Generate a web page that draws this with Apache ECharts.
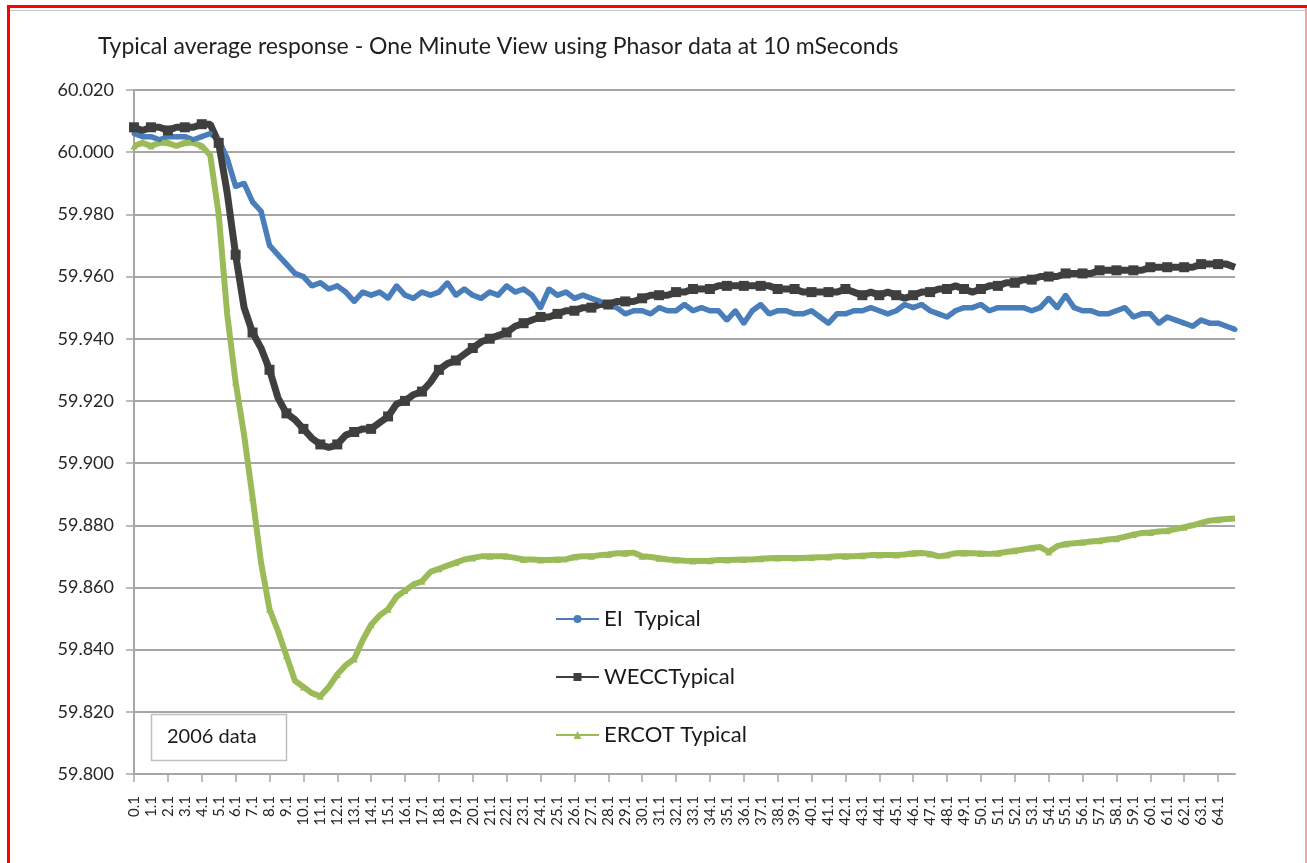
<!DOCTYPE html>
<html><head><meta charset="utf-8">
<script src="https://cdn.jsdelivr.net/npm/echarts@6/dist/echarts.min.js"></script>
<style>html,body{margin:0;padding:0;background:#fff}#c{width:1307px;height:863px}</style>
</head><body><div id="c"></div>
<script>
// Time categories (seconds), sampled every 0.5 s
const categories = [
 '0.1','0.6','1.1','1.6','2.1','2.6','3.1','3.6','4.1','4.6',
 '5.1','5.6','6.1','6.6','7.1','7.6','8.1','8.6','9.1','9.6',
 '10.1','10.6','11.1','11.6','12.1','12.6','13.1','13.6','14.1','14.6',
 '15.1','15.6','16.1','16.6','17.1','17.6','18.1','18.6','19.1','19.6',
 '20.1','20.6','21.1','21.6','22.1','22.6','23.1','23.6','24.1','24.6',
 '25.1','25.6','26.1','26.6','27.1','27.6','28.1','28.6','29.1','29.6',
 '30.1','30.6','31.1','31.6','32.1','32.6','33.1','33.6','34.1','34.6',
 '35.1','35.6','36.1','36.6','37.1','37.6','38.1','38.6','39.1','39.6',
 '40.1','40.6','41.1','41.6','42.1','42.6','43.1','43.6','44.1','44.6',
 '45.1','45.6','46.1','46.6','47.1','47.6','48.1','48.6','49.1','49.6',
 '50.1','50.6','51.1','51.6','52.1','52.6','53.1','53.6','54.1','54.6',
 '55.1','55.6','56.1','56.6','57.1','57.6','58.1','58.6','59.1','59.6',
 '60.1','60.6','61.1','61.6','62.1','62.6','63.1','63.6','64.1','64.6',
 '65.1'
];
const eiTypical = [
 60.006,60.005,60.005,60.004,60.005,60.005,60.005,60.004,60.005,60.006,
 60.004,59.998,59.989,59.990,59.984,59.981,59.970,59.967,59.964,59.961,
 59.960,59.957,59.958,59.956,59.957,59.955,59.952,59.955,59.954,59.955,
 59.953,59.957,59.954,59.953,59.955,59.954,59.955,59.958,59.954,59.956,
 59.954,59.953,59.955,59.954,59.957,59.955,59.956,59.954,59.950,59.956,
 59.954,59.955,59.953,59.954,59.953,59.952,59.951,59.950,59.948,59.949,
 59.949,59.948,59.950,59.949,59.949,59.951,59.949,59.950,59.949,59.949,
 59.946,59.949,59.945,59.949,59.951,59.948,59.949,59.949,59.948,59.948,
 59.949,59.947,59.945,59.948,59.948,59.949,59.949,59.950,59.949,59.948,
 59.949,59.951,59.950,59.951,59.949,59.948,59.947,59.949,59.950,59.950,
 59.951,59.949,59.950,59.950,59.950,59.950,59.949,59.950,59.953,59.950,
 59.954,59.950,59.949,59.949,59.948,59.948,59.949,59.950,59.947,59.948,
 59.948,59.945,59.947,59.946,59.945,59.944,59.946,59.945,59.945,59.944,
 59.943
];
const weccTypical = [
 60.008,60.007,60.008,60.008,60.007,60.008,60.008,60.008,60.009,60.009,
 60.003,59.987,59.967,59.950,59.942,59.937,59.930,59.921,59.916,59.914,
 59.911,59.908,59.906,59.905,59.906,59.909,59.910,59.911,59.911,59.913,
 59.915,59.919,59.920,59.922,59.923,59.926,59.930,59.932,59.933,59.935,
 59.937,59.939,59.940,59.941,59.942,59.944,59.945,59.946,59.947,59.947,
 59.948,59.949,59.949,59.950,59.950,59.951,59.951,59.952,59.952,59.952,
 59.953,59.954,59.954,59.954,59.955,59.955,59.956,59.956,59.956,59.957,
 59.957,59.957,59.957,59.957,59.957,59.957,59.956,59.956,59.956,59.955,
 59.955,59.955,59.955,59.955,59.956,59.955,59.954,59.955,59.954,59.955,
 59.954,59.953,59.954,59.955,59.955,59.956,59.956,59.957,59.956,59.955,
 59.956,59.957,59.957,59.958,59.958,59.959,59.959,59.960,59.960,59.960,
 59.961,59.961,59.961,59.961,59.962,59.962,59.962,59.962,59.962,59.962,
 59.963,59.963,59.963,59.963,59.963,59.963,59.964,59.964,59.964,59.964,
 59.963
];
const ercotTypical = [
 60.002,60.003,60.002,60.003,60.003,60.002,60.003,60.003,60.002,59.999,
 59.980,59.948,59.926,59.909,59.889,59.868,59.853,59.846,59.838,59.830,
 59.828,59.826,59.825,59.828,59.832,59.835,59.837,59.843,59.848,59.851,
 59.853,59.857,59.859,59.861,59.862,59.865,59.866,59.867,59.868,59.869,
 59.8695,59.870,59.870,59.870,59.870,59.8695,59.869,59.869,59.8688,59.8688,
 59.869,59.869,59.8698,59.870,59.870,59.8704,59.8706,59.871,59.871,59.8712,
 59.870,59.8698,59.8694,59.869,59.8688,59.8686,59.8685,59.8685,59.8686,59.8688,
 59.8688,59.8689,59.869,59.869,59.8692,59.8694,59.8695,59.8695,59.8695,59.8695,
 59.8696,59.8697,59.8698,59.870,59.870,59.870,59.8702,59.8704,59.8704,59.8704,
 59.8704,59.8706,59.871,59.8711,59.8708,59.870,59.8704,59.871,59.8711,59.871,
 59.8709,59.8708,59.871,59.8714,59.8718,59.8722,59.8727,59.873,59.8714,59.8733,
 59.874,59.8742,59.8745,59.8748,59.875,59.8754,59.8757,59.8763,59.877,59.8775,
 59.8777,59.878,59.8782,59.8788,59.8794,59.880,59.8808,59.8815,59.8818,59.882,
 59.8822
];
const seriesNames = ['EI  Typical', 'WECCTypical', 'ERCOT Typical'];
const titleText = 'Typical average response - One Minute View using Phasor data at 10 mSeconds';
const noteText = '2006 data';
const yMin = 59.8, yMax = 60.02, yStep = 0.02;

const FONT = 'Lato, "Open Sans", sans-serif';
const GRID = '#a6a6a6';
const chart = echarts.init(document.getElementById('c'), null, {renderer: 'canvas'});
chart.setOption({
  animation: false,
  backgroundColor: '#ffffff',
  title: {
    text: titleText, left: 93, top: 30,
    textStyle: {fontFamily: FONT, fontSize: 23, fontWeight: 'normal', color: '#1f1f1f'}
  },
  grid: {left: 134, right: 72, top: 90, bottom: 89, containLabel: false},
  legend: {
    orient: 'vertical', left: 550, top: 603, itemWidth: 43, itemHeight: 10, itemGap: 36,
    textStyle: {fontFamily: FONT, fontSize: 22, color: '#1a1a1a'},
    data: seriesNames
  },
  xAxis: {
    type: 'category', data: categories, boundaryGap: false,
    axisLine: {lineStyle: {color: GRID, width: 2}},
    axisTick: {show: true, interval: (i) => i % 4 === 0, length: 8, lineStyle: {color: GRID, width: 1.5}},
    axisLabel: {interval: (i) => i % 2 === 0 && i < 130, rotate: 90, margin: 22,
      fontFamily: FONT, fontSize: 15, color: '#262626'},
    splitLine: {show: false}
  },
  yAxis: {
    type: 'value', min: yMin, max: yMax, interval: yStep,
    axisLine: {show: true, lineStyle: {color: GRID, width: 2}},
    axisTick: {show: true, length: 8, lineStyle: {color: GRID, width: 1.5}},
    axisLabel: {formatter: (v) => v.toFixed(3), margin: 20, fontFamily: FONT, fontSize: 18, color: '#262626'},
    splitLine: {show: true, lineStyle: {color: GRID, width: 2}}
  },
  series: [
    {name: seriesNames[0], type: 'line', data: eiTypical, symbol: 'circle', symbolSize: 5, showSymbol: true,
     lineStyle: {color: '#4a7ebb', width: 5.5}, itemStyle: {color: '#4a7ebb'}},
    {name: seriesNames[1], type: 'line', data: weccTypical, symbol: 'rect', symbolSize: 10, showSymbol: true,
     lineStyle: {color: '#3f3f3f', width: 7}, itemStyle: {color: '#3f3f3f'}},
    {name: seriesNames[2], type: 'line', data: ercotTypical, symbol: 'triangle', symbolSize: 7, showSymbol: true,
     lineStyle: {color: '#9bbb59', width: 6}, itemStyle: {color: '#9bbb59'}}
  ],
  graphic: [
    {type: 'rect', shape: {x: 7, y: 5, width: 3, height: 858}, style: {fill: '#ff0000'}, z: 100},
    {type: 'rect', shape: {x: 7, y: 5, width: 1300, height: 3}, style: {fill: '#ff0000'}, z: 100},
    {type: 'line', shape: {x1: 10, y1: 10.5, x2: 1305, y2: 10.5}, style: {stroke: '#c4c4c4', lineWidth: 1}, z: 100},
    {type: 'rect', shape: {x: 1305, y: 8, width: 2, height: 855}, style: {fill: '#f2a8a8'}, z: 100},
    {type: 'rect', shape: {x: 151.5, y: 714.5, width: 135, height: 46}, style: {fill: '#ffffff', stroke: '#bfbfbf', lineWidth: 1.5}, z: 50},
    {type: 'text', x: 167, y: 737, style: {text: noteText, font: '20px Lato, "Open Sans", sans-serif', fill: '#1a1a1a', verticalAlign: 'middle', textVerticalAlign: 'middle'}, z: 51}
  ]
});
</script>
</body></html>
